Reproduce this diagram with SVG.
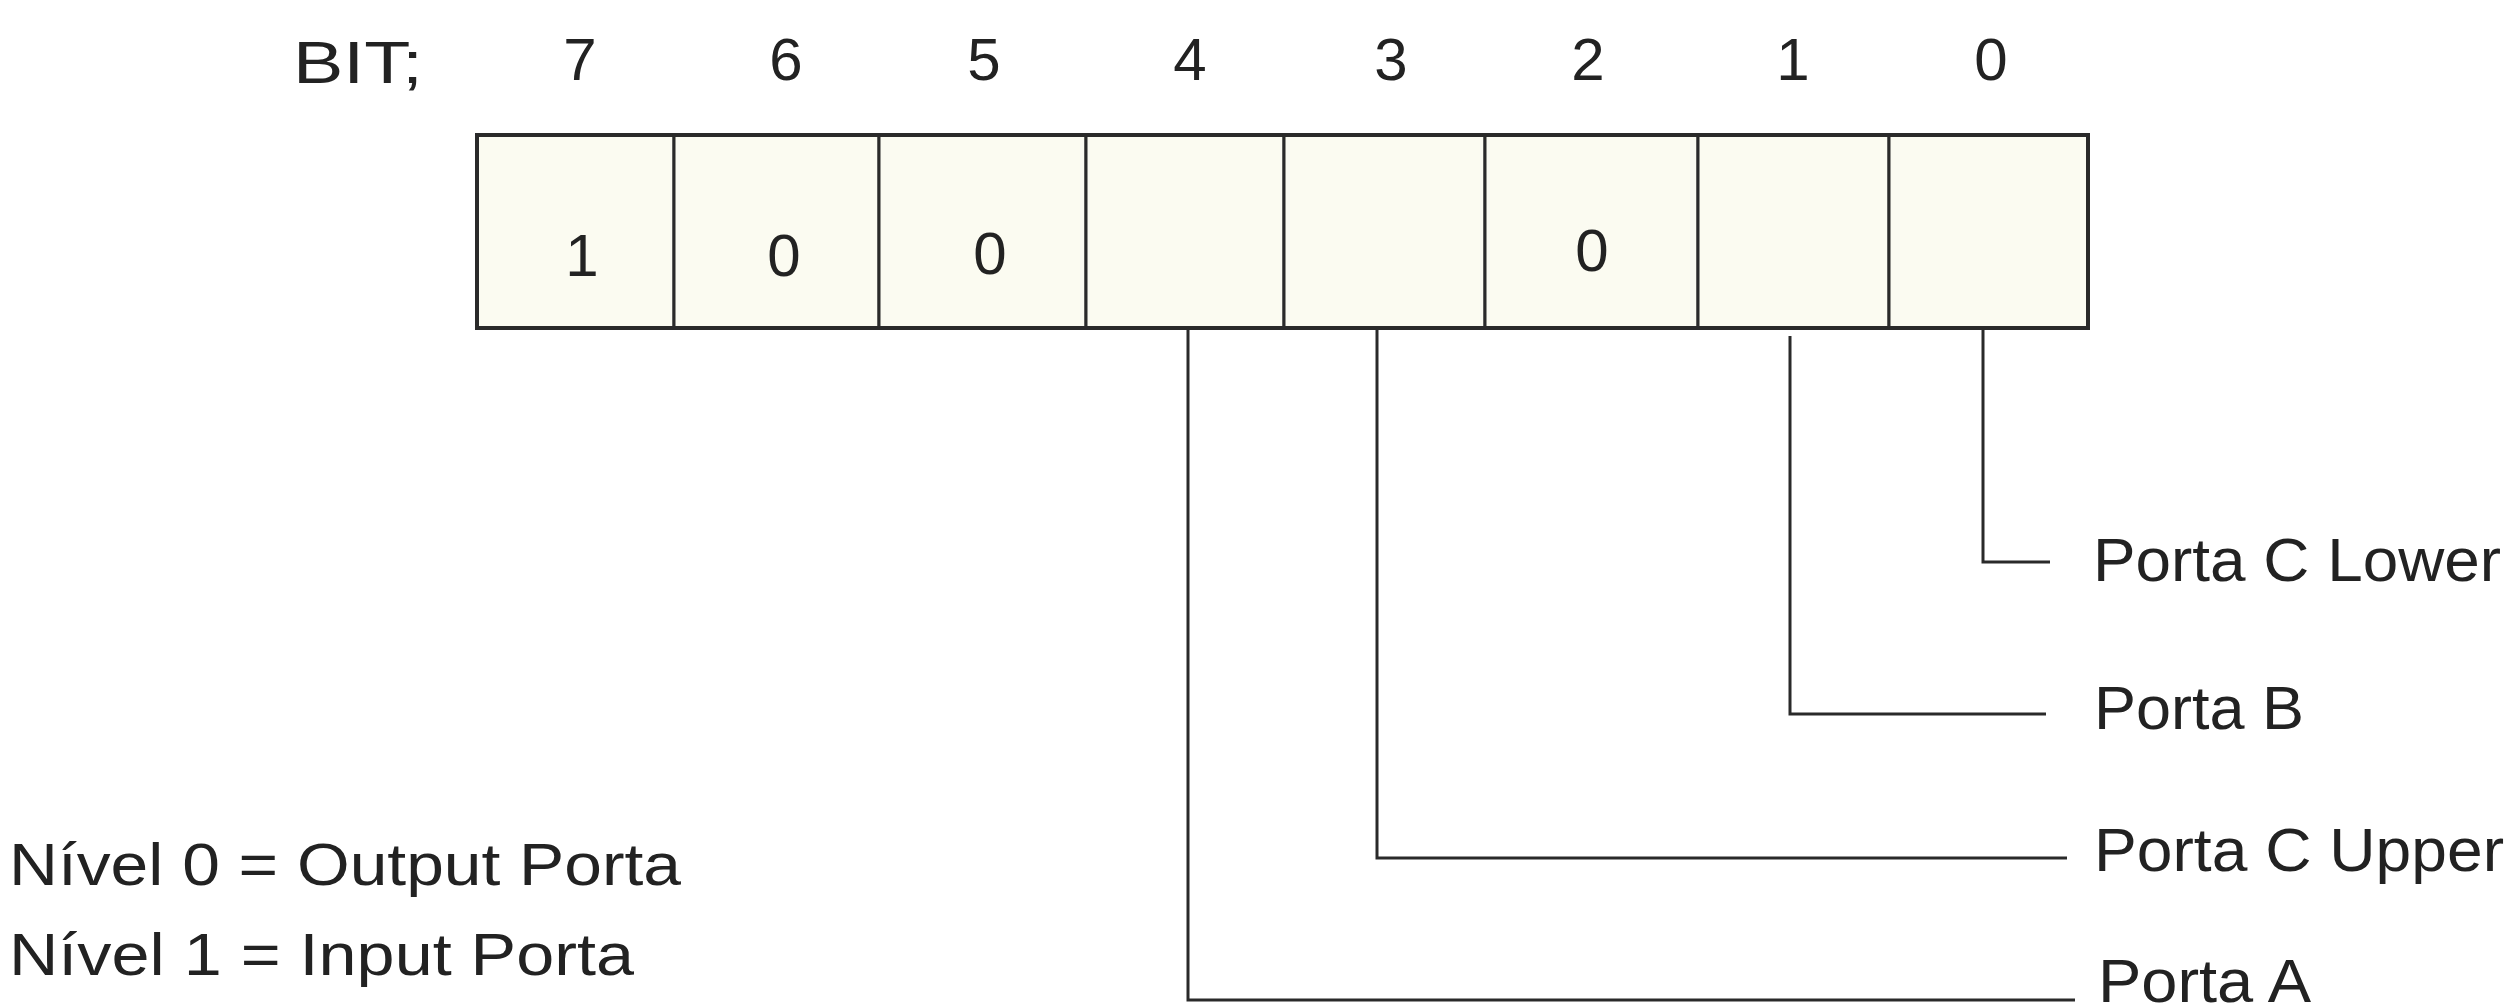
<svg xmlns="http://www.w3.org/2000/svg" width="2511" height="1004" viewBox="0 0 2511 1004">
<style>
text{font-family:"Liberation Sans",Arial,sans-serif;fill:#222;font-size:60px}
.c{text-anchor:middle}
.cell{fill:#fbfbf1;stroke:#2a2a2a;stroke-width:3}
.outer{fill:none;stroke:#2a2a2a;stroke-width:4}
.lead{fill:none;stroke:#2a2a2a;stroke-width:3}
.lbl{font-size:62px}
</style>
<rect width="2511" height="1004" fill="#ffffff"/>
<g id="header">
<text x="293" y="83" textLength="130" lengthAdjust="spacingAndGlyphs">BIT;</text>
<text class="c" x="580" y="80">7</text>
<text class="c" x="786" y="80">6</text>
<text class="c" x="984" y="80">5</text>
<text class="c" x="1190" y="80">4</text>
<text class="c" x="1391" y="80">3</text>
<text class="c" x="1588" y="80">2</text>
<text class="c" x="1793" y="80">1</text>
<text class="c" x="1991" y="80">0</text>
</g>
<g id="bit7"><rect class="cell" x="477" y="135" width="197" height="193"/><text class="c" x="582" y="276">1</text></g>
<g id="bit6"><rect class="cell" x="674" y="135" width="205" height="193"/><text class="c" x="784" y="276">0</text></g>
<g id="bit5"><rect class="cell" x="879" y="135" width="207" height="193"/><text class="c" x="990" y="274">0</text></g>
<g id="bit4"><rect class="cell" x="1086" y="135" width="198" height="193"/></g>
<g id="bit3"><rect class="cell" x="1284" y="135" width="201" height="193"/></g>
<g id="bit2"><rect class="cell" x="1485" y="135" width="213" height="193"/><text class="c" x="1592" y="271">0</text></g>
<g id="bit1"><rect class="cell" x="1698" y="135" width="191" height="193"/></g>
<g id="bit0"><rect class="cell" x="1889" y="135" width="199" height="193"/></g>
<rect class="outer" x="477" y="135" width="1611" height="193"/>
<g id="connectors">
<polyline class="lead" points="1983,328 1983,562 2050,562"/>
<polyline class="lead" points="1790,336 1790,714 2046,714"/>
<polyline class="lead" points="1377,328 1377,858 2067,858"/>
<polyline class="lead" points="1188,328 1188,1000 2075,1000"/>
</g>
<g id="label-portaClower"><text class="lbl" x="2093" y="581" textLength="408" lengthAdjust="spacingAndGlyphs">Porta C Lower</text></g>
<g id="label-portaB"><text class="lbl" x="2094" y="729" textLength="210" lengthAdjust="spacingAndGlyphs">Porta B</text></g>
<g id="label-portaCupper"><text class="lbl" x="2094" y="871" textLength="410" lengthAdjust="spacingAndGlyphs">Porta C Upper</text></g>
<g id="label-portaA"><text class="lbl" x="2098" y="1002" textLength="213" lengthAdjust="spacingAndGlyphs">Porta A</text></g>
<g id="legend">
<text x="9" y="885" textLength="672" lengthAdjust="spacingAndGlyphs">Nível 0 = Output Porta</text>
<text x="9" y="975" textLength="625" lengthAdjust="spacingAndGlyphs">Nível 1 = Input Porta</text>
</g>
</svg>
